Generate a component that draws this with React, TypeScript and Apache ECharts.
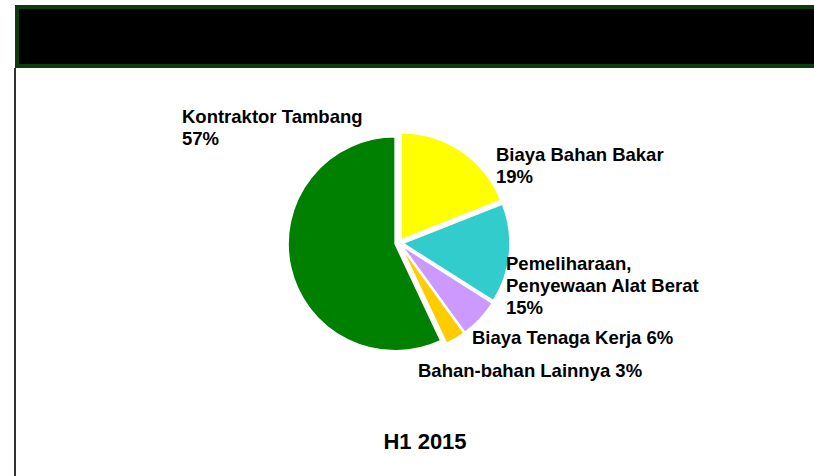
import React, { useEffect, useRef } from "react";
import * as echarts from "echarts";

const categories = [
  "Biaya Bahan Bakar",
  "Pemeliharaan,\nPenyewaan Alat Berat",
  "Biaya Tenaga Kerja",
  "Bahan-bahan Lainnya",
  "Kontraktor Tambang",
];
const values = [19, 15, 6, 3, 57];
const colors = ["#FFFF00", "#33CCCC", "#CC99FF", "#FFCC00", "#008000"];
const labelSeparators = ["\n", "\n", " ", " ", "\n"];
const labelPositions = [
  [496, 143],
  [506, 252],
  [472, 326],
  [418, 359],
  [182, 105],
];
const periodLabel = "H1 2015";

const FONT = "'Liberation Sans', Arial, Helvetica, sans-serif";

export default function App() {
  const ref = useRef<HTMLDivElement>(null);
  useEffect(() => {
    document.body.style.margin = "0";
    const chart = echarts.init(ref.current!, null, { renderer: "svg" });
    const labelTexts = categories.map((name, i) => ({
      type: "text",
      x: labelPositions[i][0],
      y: labelPositions[i][1],
      z: 10,
      style: {
        text: name + labelSeparators[i] + values[i] + "%",
        align: "left",
        verticalAlign: "top",
        fontFamily: FONT,
        fontWeight: "bold",
        fontSize: 18.5,
        lineHeight: 22,
        fill: "#000000",
      },
    }));
    chart.setOption({
      animation: false,
      backgroundColor: "#ffffff",
      graphic: [
        {
          type: "rect",
          shape: { x: 17, y: 7, width: 820, height: 59 },
          style: { fill: "#000000", stroke: "#0a3d0a", lineWidth: 4 },
          z: 1,
        },
        {
          type: "line",
          shape: { x1: 15, y1: 68, x2: 15, y2: 476 },
          style: { stroke: "#333333", lineWidth: 2 },
        },
        {
          type: "text",
          x: 425,
          y: 441,
          style: {
            text: periodLabel,
            align: "center",
            verticalAlign: "middle",
            fontFamily: FONT,
            fontWeight: "bold",
            fontSize: 22,
            fill: "#000000",
          },
        },
        ...labelTexts,
      ],
      series: [
        {
          type: "pie",
          center: [399, 243],
          radius: 107,
          startAngle: 90,
          clockwise: true,
          selectedMode: "multiple",
          selectedOffset: 4,
          emphasis: { disabled: true },
          itemStyle: { borderColor: "#ffffff", borderWidth: 1.5 },
          labelLine: { show: false },
          label: { show: false },
          data: categories.map((name, i) => ({
            name,
            value: values[i],
            selected: true,
            itemStyle: { color: colors[i] },
          })),
        },
      ],
    });
    return () => chart.dispose();
  }, []);
  return (
    <div
      ref={ref}
      style={{ position: "fixed", left: 0, top: 0, width: 814, height: 476 }}
    />
  );
}
